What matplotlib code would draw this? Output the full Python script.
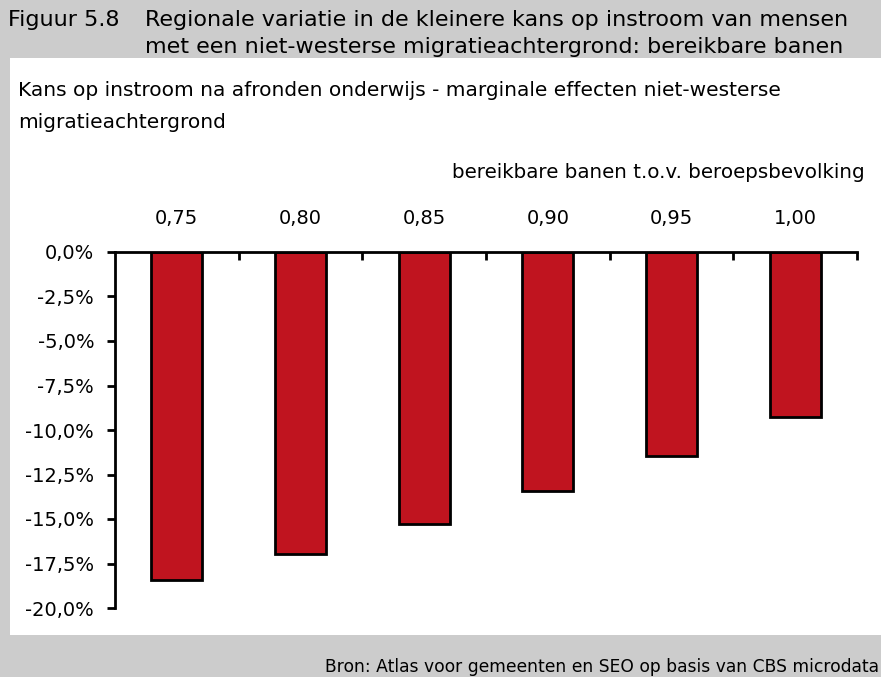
import matplotlib.pyplot as plt
from matplotlib.patches import Rectangle
from matplotlib.ticker import FuncFormatter
from matplotlib.transforms import offset_copy

# Data
categories = ["0,75", "0,80", "0,85", "0,90", "0,95", "1,00"]
effects = [-18.4, -16.95, -15.3, -13.45, -11.45, -9.25]
yticks = [0, -2.5, -5, -7.5, -10, -12.5, -15, -17.5, -20]

red = "#c0141f"
grey = "#cccccc"

plt.rcParams['font.family'] = ['DejaVu Sans']

fig = plt.figure(figsize=(8.81, 6.77), dpi=100)
fig.patch.set_facecolor("white")

# grey frame: title band, left strip, source band
fig.add_artist(Rectangle((0, 1 - 58 / 677), 1, 58 / 677, transform=fig.transFigure,
                         facecolor=grey, edgecolor="none", zorder=0))
fig.add_artist(Rectangle((0, 0), 10 / 881, 1, transform=fig.transFigure,
                         facecolor=grey, edgecolor="none", zorder=0))
fig.add_artist(Rectangle((0, 0), 1, 42 / 677, transform=fig.transFigure,
                         facecolor=grey, edgecolor="none", zorder=0))

fig.text(8 / 881, 1 - 20 / 677, "Figuur 5.8", fontsize=16, va="center")
fig.text(145 / 881, 1 - 20 / 677, "Regionale variatie in de kleinere kans op instroom van mensen",
         fontsize=16, va="center")
fig.text(145 / 881, 1 - 47 / 677, "met een niet-westerse migratieachtergrond: bereikbare banen",
         fontsize=16, va="center")

fig.text(18 / 881, 1 - 91 / 677, "Kans op instroom na afronden onderwijs - marginale effecten niet-westerse",
         fontsize=14.5, va="center")
fig.text(18 / 881, 1 - 123 / 677, "migratieachtergrond", fontsize=14.5, va="center")
fig.text(865 / 881, 1 - 172 / 677, "bereikbare banen t.o.v. beroepsbevolking",
         fontsize=14.3, ha="right", va="center")
fig.text(879 / 881, 1 - 667 / 677, "Bron: Atlas voor gemeenten en SEO op basis van CBS microdata",
         fontsize=12.3, ha="right", va="center")

ax = fig.add_axes([115 / 881, 1 - 608 / 677, 742 / 881, 356 / 677])
ax.set_facecolor("none")
x = list(range(len(categories)))
ax.bar(x, effects, width=0.41, color=red, edgecolor="black", linewidth=2)

ax.set_xlim(-0.5, len(categories) - 0.5)
ax.set_ylim(-20, 0)
ax.set_yticks(yticks)
ax.yaxis.set_major_formatter(FuncFormatter(lambda v, p: f"{v:.1f}%".replace(".", ",")))

# category labels above the axis, tick marks between categories
ax.set_xticks([i + 0.5 for i in x])
ax.set_xticklabels([])
ax.tick_params(axis="x", direction="in", length=6, width=2, top=True, bottom=False)
label_tr = offset_copy(ax.transData, fig=fig, y=20, units="points")
for i, lab in enumerate(categories):
    ax.text(i, 0, lab, transform=label_tr, ha="center", va="baseline", fontsize=14)

ax.tick_params(axis="y", direction="out", length=6, width=2, labelsize=14, pad=9)
for s in ["right", "bottom"]:
    ax.spines[s].set_visible(False)
ax.spines["top"].set_linewidth(2)
ax.spines["left"].set_linewidth(2)

fig.savefig("out.png", dpi=100)
